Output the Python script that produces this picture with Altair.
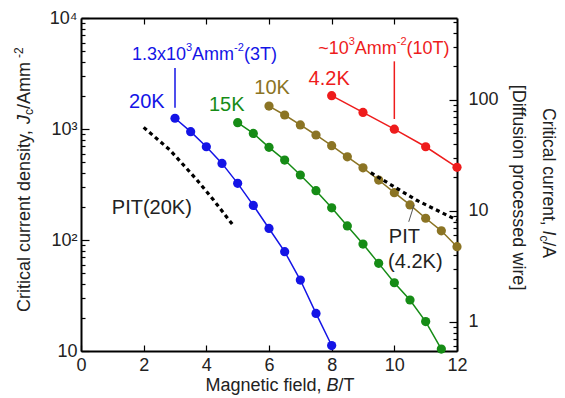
import altair as alt
import pandas as pd

# ---- data ----
B20 = [3.0, 3.5, 4.0, 4.5, 5.0, 5.5, 6.0, 6.5, 7.0, 7.5, 8.0]
JC20 = [1250, 946, 692, 490, 324, 205, 127, 78.5, 43.6, 21.8, 11.2]
B15 = [5.0, 5.5, 6.0, 6.5, 7.0, 7.5, 8.0, 8.5, 9.0, 9.5, 10.0, 10.5, 11.0, 11.5]
JC15 = [1140, 912, 684, 525, 385, 278, 195, 134, 92, 61.6, 41.2, 28.8, 18.4, 10.4]
B10 = [6.0, 6.5, 7.0, 7.5, 8.0, 8.5, 9.0, 9.5, 10.0, 10.5, 11.0, 11.5, 12.0]
JC10 = [1610, 1337, 1087, 883, 708, 562, 447, 347, 267, 207, 157, 121, 87]
B42 = [8.0, 9.0, 10.0, 11.0, 12.0]
JC42 = [1996, 1410, 997, 692, 452]
PIT20_B = [2.0, 2.84, 3.7, 4.23, 4.87]
PIT20_JC = [1035, 646, 348, 229, 134]
PIT42_B = [9.25, 10.7, 12.0]
PIT42_JC = [404, 229, 151]
JC_PER_IC = 18.3

X_TICKS = [0, 2, 4, 6, 8, 10, 12]
X_TOP_TICKS = [2, 4, 6, 8, 10]
JC_TICKS = [m * 10 ** e for e in (1, 2, 3) for m in range(1, 10)] + [10000]
IC_TICKS = [0.6, 0.7, 0.8, 0.9] + [m * 10 ** e for e in (0, 1) for m in range(1, 10)] + [100, 200, 300, 400, 500]

BLUE = "#1414e6"
GREEN = "#168c16"
OLIVE = "#8b7424"
RED = "#ee1c1c"
INK = "#222222"
FONT = "Liberation Sans"

xscale = alt.Scale(domain=[0, 12], nice=False, zero=False)
yscale = alt.Scale(type="log", domain=[10, 10000], nice=False)
icscale = alt.Scale(type="log", domain=[10 / JC_PER_IC, 10000 / JC_PER_IC], nice=False)

common_axis = dict(grid=False, title=None, domainColor="black", domainWidth=2,
                   tickColor="black", tickWidth=1.2, labelFont=FONT, labelFontSize=18,
                   labelColor=INK, labelFlush=False, labelOverlap=False, labelBound=False)

xaxis = alt.Axis(values=X_TICKS, orient="bottom", tickSize={"expr": "-6"}, labelPadding=11, **common_axis)
yaxis = alt.Axis(values=JC_TICKS, orient="left",
                 tickSize={"condition": {"test": "indexof([10,100,1000,10000], datum.value) >= 0", "value": -8}, "value": -4},
                 labelPadding=12,
                 labelExpr="datum.value == 10 ? '10' : datum.value == 100 ? '10²' : datum.value == 1000 ? '10³' : datum.value == 10000 ? '10⁴' : ''",
                 **common_axis)
topaxis = alt.Axis(values=X_TOP_TICKS, orient="top", tickSize={"expr": "-6"}, labels=False, **common_axis)
rightaxis = alt.Axis(values=IC_TICKS, orient="right",
                     tickSize={"condition": {"test": "indexof([1,10,100], datum.value) >= 0", "value": -8}, "value": -4},
                     labelPadding=19,
                     labelExpr="datum.value == 1 ? '1' : datum.value == 10 ? '10' : datum.value == 100 ? '100' : ''",
                     **common_axis)


def X():
    return alt.X("B:Q", scale=xscale, axis=xaxis)


def Y(field="Jc:Q"):
    return alt.Y(field, scale=yscale, axis=yaxis)


def series(bs, jcs, color):
    df = pd.DataFrame({"B": bs, "Jc": jcs})
    line = alt.Chart(df).mark_line(color=color, strokeWidth=1.5).encode(x=X(), y=Y())
    pts = alt.Chart(df).mark_point(filled=True, color=color, size=85, opacity=1).encode(x=X(), y=Y())
    return [line, pts]


def dashed(bs, jcs):
    df = pd.DataFrame({"B": bs, "Jc": jcs})
    return alt.Chart(df).mark_line(color="black", strokeWidth=3.2, strokeDash=[4, 3.5]).encode(x=X(), y=Y())


def label(b, jc, text, color, size=20, dx=0, dy=0, italic=False, align="center"):
    df = pd.DataFrame({"B": [b], "Jc": [jc]})
    return alt.Chart(df).mark_text(text=text, color=color, fontSize=size, dx=dx, dy=dy, align=align,
                                   baseline="middle", font=FONT,
                                   fontStyle="italic" if italic else "normal").encode(x=X(), y=Y())


ONE = pd.DataFrame({"a": [0]})


def px_text(x, y, text, size=18, angle=0, italic=False, align="left"):
    return alt.Chart(ONE).mark_text(text=text, fontSize=size, angle=angle, align=align, baseline="middle",
                                    font=FONT, color=INK,
                                    fontStyle="italic" if italic else "normal").encode(x=alt.value(x), y=alt.value(y))


layers = []
layers += series(B20, JC20, BLUE)
layers += series(B15, JC15, GREEN)
layers += series(B10, JC10, OLIVE)
layers += series(B42, JC42, RED)
layers.append(dashed(PIT20_B, PIT20_JC))
layers.append(dashed(PIT42_B, PIT42_JC))

# annotation leader lines
lead = pd.DataFrame({"B": [3.0, 10.0], "Jc": [1550, 1230], "Jc2": [3550, 4070], "c": [BLUE, RED]})
layers.append(alt.Chart(lead).mark_rule(strokeWidth=1.5).encode(
    x=X(), y=Y(), y2="Jc2:Q", color=alt.Color("c:N", scale=None)))
pitlead = pd.DataFrame({"B": [10.63], "B2": [10.46], "Jc": [207], "Jc2": [146]})
layers.append(alt.Chart(pitlead).mark_rule(strokeWidth=1, color="#555555").encode(
    x=X(), x2="B2:Q", y=Y(), y2="Jc2:Q"))

# series labels
layers.append(label(2.1, 1762, "20K", BLUE))
layers.append(label(4.65, 1644, "15K", GREEN))
layers.append(label(6.1, 2344, "10K", OLIVE))
layers.append(label(7.92, 2820, "4.2K", RED))
layers.append(label(2.26, 193, "PIT(20K)", INK))
layers.append(label(10.32, 106, "PIT", INK))
layers.append(label(10.67, 63, "(4.2K)", INK))

# value annotations with superscripts
for (b0, jc0, col, parts) in [
    (1.63, 4645, BLUE, [("1.3x10", 0, False), ("3", 54, True), ("Amm", 60, False), ("-2", 102, True), ("(3T)", 112, False)]),
    (7.57, 5250, RED, [("~10", 0, False), ("3", 30.5, True), ("Amm", 36.6, False), ("-2", 78.6, True), ("(10T)", 88.4, False)]),
]:
    for (t, dx, sup) in parts:
        layers.append(label(b0, jc0, t, col, size=11 if sup else 18, dx=dx, dy=-7 if sup else 0, align="left"))

# axis titles built from text pieces (italic / sub / superscripts)
layers.append(px_text(124.5, 368, "Magnetic field, "))
layers.append(px_text(245.5, 368, "B", italic=True))
layers.append(px_text(257.5, 368, "/T"))

layers.append(px_text(-56, 294, "Critical current density, ", angle=270))
layers.append(px_text(-56, 106, "J", angle=270, italic=True))
layers.append(px_text(-52, 97, "c", size=12, angle=270))
layers.append(px_text(-56, 91, " /Amm", angle=270))
layers.append(px_text(-62, 40, "-2", size=12, angle=270))

layers.append(px_text(466.5, 90, "Critical current, ", size=17.5, angle=90))
layers.append(px_text(466.5, 212.5, "I", size=17.5, angle=90, italic=True))
layers.append(px_text(462.5, 217.5, "c", size=12, angle=90))
layers.append(px_text(466.5, 223.5, "/A", size=17.5, angle=90))
layers.append(px_text(437, 169.5, "[Diffusion processed wire]", angle=90, align="center"))

left = alt.layer(*layers)

icdf = pd.DataFrame({"B": [0, 12], "Ic": [10 / JC_PER_IC, 10000 / JC_PER_IC]})
right = alt.Chart(icdf).mark_point(opacity=0).encode(
    x=alt.X("B:Q", scale=xscale, axis=topaxis),
    y=alt.Y("Ic:Q", scale=icscale, axis=rightaxis),
)

chart = alt.layer(left, right).resolve_scale(y="independent").resolve_axis(
    x="independent", y="independent"
).properties(
    width=376, height=333,
    padding={"left": 73, "top": 10, "right": 100, "bottom": 44},
    autosize=alt.AutoSizeParams(type="none"),
).configure_view(stroke=None).configure(font=FONT)

chart.save("out.html", embed_options={"renderer": "svg", "actions": False})
